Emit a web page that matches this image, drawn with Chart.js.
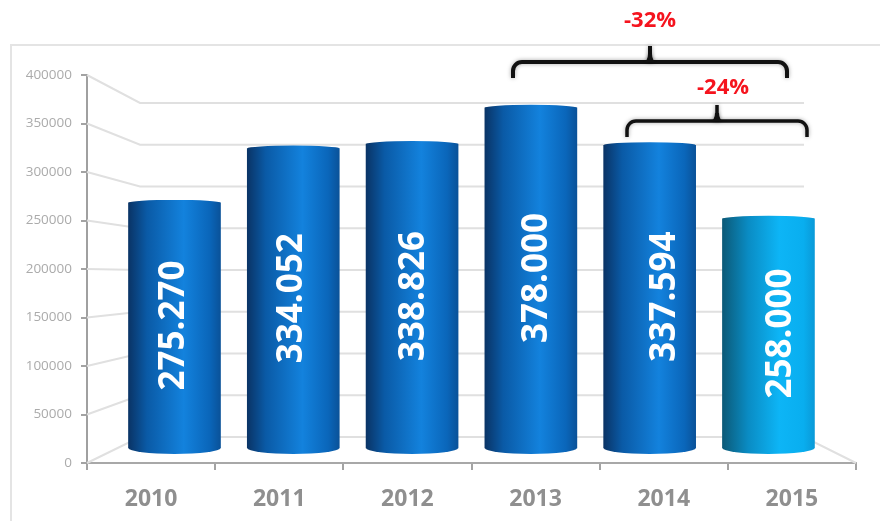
<!DOCTYPE html>
<html>
<head>
<meta charset="utf-8">
<title>2010-2015</title>
<script src="https://cdn.jsdelivr.net/npm/chart.js@4/dist/chart.umd.min.js"></script>
<style>
  html, body { margin: 0; padding: 0; background: #fff; }
  canvas { display: block; }
</style>
</head>
<body>
<canvas id="barChart" width="880" height="521"></canvas>
<script>
const years = ["2010", "2011", "2012", "2013", "2014", "2015"];
const visitors = [275270, 334052, 338826, 378000, 337594, 258000];
const axisTicks = [0, 50000, 100000, 150000, 200000, 250000, 300000, 350000, 400000];
const changeLabels = ["-32%", "-24%"];

const blueStops = [[0, "#0a3466"], [0.2, "#0a5aa6"], [0.6, "#1382dd"], [0.88, "#0a66ba"], [1, "#0a5299"]];
const cyanStops = [[0, "#0c5a78"], [0.28, "#0a8cc4"], [0.62, "#0db5f6"], [0.88, "#09aeef"], [1, "#0a9ad8"]];

// nudges for the rotated value labels, the text does not sit dead centre on the cylinders
const labelShift = [0, -1, 2, 6, 15, 13];

function cylinderFill(chart, index) {
  const x = chart.scales.xBar ? chart.scales.xBar.getPixelForValue(index) : NaN;
  // the options get resolved once before the scales have a size
  if (!Number.isFinite(x)) return "#0a62b4";
  const g = chart.ctx.createLinearGradient(x - 46, 0, x + 46, 0);
  const stops = index === 5 ? cyanStops : blueStops;
  stops.forEach(s => g.addColorStop(s[0], s[1]));
  return g;
}

// floor and back wall of the 3D box, drawn under the bars
const wallPlugin = {
  id: "wall",
  beforeDraw(chart) {
    const c = chart.ctx;
    c.save();
    c.strokeStyle = "#e4e4e4";
    c.lineWidth = 2;
    c.beginPath();
    c.moveTo(11, 521);
    c.lineTo(11, 45);
    c.lineTo(880, 45);
    c.stroke();
    c.restore();
  },
  beforeDatasetsDraw(chart) {
    const c = chart.ctx;
    const front = chart.scales.y;
    const back = chart.scales.yWall;
    c.save();
    c.strokeStyle = "#e0e0e0";
    c.lineWidth = 2;
    axisTicks.forEach(v => {
      c.beginPath();
      c.moveTo(front.left + front.width, front.getPixelForValue(v));
      c.lineTo(140, back.getPixelForValue(v));
      c.lineTo(804, back.getPixelForValue(v));
      if (v === 0) c.lineTo(chart.chartArea.right, front.getPixelForValue(0));
      c.stroke();
    });
    c.restore();
  },
  afterDatasetsDraw(chart) {
    const c = chart.ctx;
    const bars = chart.getDatasetMeta(0).data;
    c.save();
    bars.forEach((bar, i) => {
      // round the flat bar ends into a cylinder
      c.fillStyle = cylinderFill(chart, i);
      c.beginPath();
      c.ellipse(bar.x, bar.y, bar.width / 2, 3, 0, 0, Math.PI * 2);
      c.fill();
      c.beginPath();
      c.ellipse(bar.x, bar.base, bar.width / 2, 6, 0, 0, Math.PI * 2);
      c.fill();

      c.save();
      c.translate(bar.x + labelShift[i], (bar.y + bar.base) / 2);
      c.rotate(-Math.PI / 2);
      c.fillStyle = "#fff";
      c.font = "bold 35px 'Open Sans'";
      c.textAlign = "center";
      c.textBaseline = "middle";
      c.fillText(visitors[i].toLocaleString("de-DE"), 0, 0);
      c.restore();
    });
    c.restore();
  },
  afterDraw(chart) {
    const c = chart.ctx;
    c.save();
    c.strokeStyle = "#111";
    c.lineJoin = "round";
    c.shadowColor = "rgba(0,0,0,0.35)";
    c.shadowBlur = 4;
    drawBracket(c, 513, 787, 650, 62, 78, 46, 4);
    drawBracket(c, 627, 807, 717, 121, 137, 105, 3.5);
    c.shadowBlur = 0;
    c.fillStyle = "#f5141e";
    c.font = "bold 22px 'Open Sans'";
    c.textAlign = "center";
    c.textBaseline = "middle";
    c.fillText(changeLabels[0], 650, 21);
    c.fillText(changeLabels[1], 723, 88);
    c.restore();
  }
};

function drawBracket(c, x0, x1, tipX, y, endY, tipY, width) {
  c.lineWidth = width;
  c.beginPath();
  c.moveTo(x0, endY);
  c.arcTo(x0, y, x0 + 10, y, 9);
  c.lineTo(x1 - 10, y);
  c.arcTo(x1, y, x1, endY, 9);
  c.lineTo(x1, endY);
  c.stroke();
  c.beginPath();
  c.moveTo(tipX, tipY);
  c.lineTo(tipX, y);
  c.stroke();
  // small flare where the tip meets the brace
  c.fillStyle = c.strokeStyle;
  c.beginPath();
  c.moveTo(tipX - 2, y - 8);
  c.quadraticCurveTo(tipX - 2, y - 1, tipX - 7, y);
  c.lineTo(tipX + 7, y);
  c.quadraticCurveTo(tipX + 2, y - 1, tipX + 2, y - 8);
  c.fill();
}

new Chart(document.getElementById("barChart"), {
  type: "bar",
  data: {
    labels: years,
    datasets: [{
      data: visitors.map((v, i) => ({ x: i, y: v })),
      xAxisID: "xBar",
      yAxisID: "yBar",
      base: 10300,
      barThickness: 92,
      borderWidth: 0,
      backgroundColor: ctx => ctx.dataIndex === undefined ? "#0a62b4" : cylinderFill(ctx.chart, ctx.dataIndex)
    }]
  },
  options: {
    responsive: false,
    animation: false,
    layout: { padding: { top: 75, right: 24, left: 0, bottom: 0 } },
    plugins: { legend: { display: false }, tooltip: { enabled: false } },
    scales: {
      x: {
        type: "category",
        offset: true,
        afterFit: s => { s.height = 58; },
        grid: { offset: true, drawOnChartArea: false, color: "#a3a3a3", tickLength: 7, lineWidth: 2 },
        border: { color: "#a8a8a8", width: 2 },
        ticks: { color: "#8f8f8f", font: { family: "Open Sans", size: 23, weight: "bold" }, padding: 16, maxRotation: 0 }
      },
      y: {
        min: 0,
        max: 400000,
        afterFit: s => { s.width = 87; },
        afterBuildTicks: s => { s.ticks = axisTicks.map(v => ({ value: v })); },
        grid: { drawOnChartArea: false, color: "#a3a3a3", tickLength: 6, lineWidth: 2 },
        border: { color: "#a0a0a0", width: 2 },
        ticks: { color: "#ababab", font: { family: "Open Sans", size: 13.5 }, padding: 9, callback: v => String(v) }
      },
      // the cylinders stand further back than the axis, so they get their own scales
      xBar: { type: "linear", display: false, offset: false, min: -0.7365, max: 5.737 },
      yBar: { type: "linear", display: false, min: -5946, max: 413514 },
      yWall: { type: "linear", display: false, min: -31138, max: 433533 }
    }
  },
  plugins: [wallPlugin]
});
</script>
</body>
</html>
